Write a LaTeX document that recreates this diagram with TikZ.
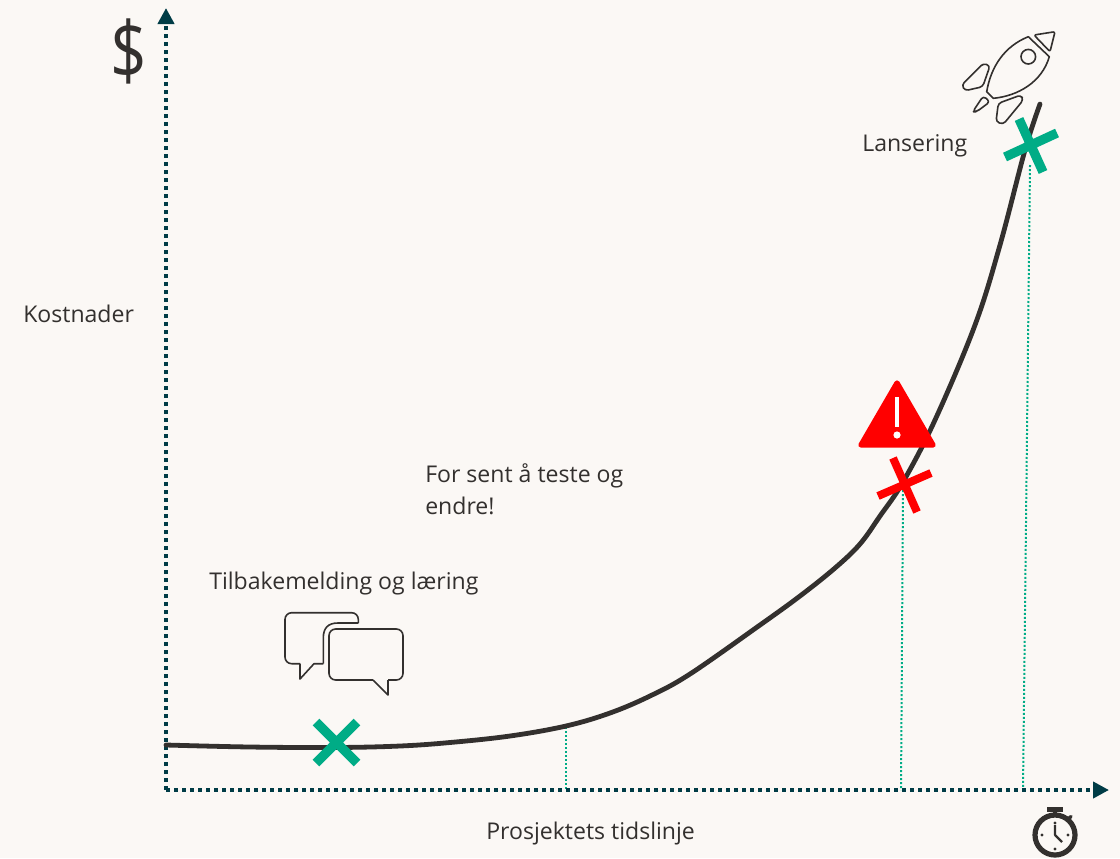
\documentclass[tikz,border=0pt]{standalone}
\usepackage{fontspec}
\setmainfont{Open Sans}
\usetikzlibrary{arrows.meta}
\definecolor{bgc}{HTML}{FBF8F5}
\definecolor{axisc}{HTML}{003C46}
\definecolor{greenc}{HTML}{00AC86}
\definecolor{inkc}{HTML}{33302E}
\definecolor{redc}{HTML}{FF0000}
\tikzset{
  px/.style={x=0.75pt,y=-0.75pt},
  axisline/.style={axisc,line width=3pt,dash pattern=on 3pt off 3pt,-{Triangle[length=12pt,width=12pt,fill=axisc]}},
  guide/.style={greenc,line width=1.5pt,dash pattern=on 1.5pt off 1.5pt},
  curveline/.style={inkc,line width=3.6pt,line cap=round},
  greenx/.style={greenc,line width=7pt},
  redx/.style={redc,line width=6pt},
  label/.style={inkc,anchor=base west,inner sep=0pt,font=\fontsize{17.3pt}{20pt}\selectfont},
  iconline/.style={inkc,line width=1.2pt,line join=round},
}
\begin{document}
\begin{tikzpicture}[px]
\path[use as bounding box,fill=bgc] (0,0) rectangle (1120,858);
\coordinate (origin) at (166,790);
\coordinate (ytip) at (166,8);
\coordinate (xtip) at (1109,790);
\coordinate (g1a) at (566,727);
\coordinate (g1b) at (566,790);
\coordinate (g2a) at (903,490);
\coordinate (g2b) at (901,790);
\coordinate (g3a) at (1030,165);
\coordinate (g3b) at (1023,790);
% guides
\draw[guide] (g1a) -- (g1b);
\draw[guide] (g2a) -- (g2b);
\draw[guide] (g3a) -- (g3b);
% axes
\draw[axisline] (origin) -- (ytip);
\draw[axisline] (origin) -- (xtip);
% curve
\draw[curveline] plot[smooth,tension=0.6] coordinates {(166,745) (250,747) (336,747.5) (400,746) (450,742.5) (510,736) (566,726) (610,713) (650,696) (690,674) (760,625) (800,596) (835,568) (860,544) (880,516) (903,482) (935,420) (975,325) (1000,245) (1025,150) (1040,104)};
% crosses
\draw[greenx] (316,722) -- (357,763) (316,763) -- (357,722);
\draw[greenx] (1019,119) -- (1043,172) (1005,157) -- (1057,133);
\draw[redx] (893,458) -- (917,512) (878,496) -- (931,473);
% warning
\fill[redc,draw=redc,line width=4pt,line join=round] (897,383) -- (861,445) -- (933,445) -- cycle;
\draw[white,line width=3.2pt] (897,397) -- (897,427);
\fill[white] (897,435) circle (3.6);
% rocket
\begin{scope}[iconline]
\draw (1028.3,36.7) .. controls (1005,46) and (991,66) .. (986.7,91.7) -- (993.3,98.3) .. controls (1018,96) and (1042,82) .. (1049.3,56.7) -- cycle;
\draw[rounded corners=1.5pt] (1034,35) -- (1055,31.7) -- (1050,51.7) -- cycle;
\draw (1028.3,56.7) circle (7.3);
\draw[rounded corners=2.5pt] (983.3,63.3) -- (990,65.7) -- (982.7,86.7) -- (965,90.7) -- (961.7,85) -- cycle;
\draw[rounded corners=2.5pt] (983.3,96) -- (990,101.7) -- (976.7,111.7) -- (972.7,111.7) -- cycle;
\draw[rounded corners=2.5pt] (998.3,103.3) -- (1021,95) -- (1023.3,100) -- (1003.3,124.3) -- (996,121.7) -- cycle;
\end{scope}
% speech bubbles
\begin{scope}[iconline]
\draw[rounded corners=5pt] (358.3,623) -- (358.3,612.7) -- (285,612.7) -- (285,663.7) -- (300,663.7);
\draw (300,663.7) -- (300,679) -- (314,663.7) -- (323.3,663.7);
\draw (323.3,663.7) -- (323.3,638) .. controls (323.3,628) and (328,623) .. (338,623) -- (358.3,623);
\draw[rounded corners=5pt] (373,680) -- (329,680) -- (329,629) -- (403,629) -- (403,680) -- (388,680);
\draw (388,680) -- (388,695) -- (373,680);
\end{scope}
% stopwatch
\draw[inkc,line width=3.9pt] (1055,835) circle (20);
\fill[inkc] (1046.7,807) rectangle (1063.3,812);
\fill[inkc] (1053,812) rectangle (1057,816);
\draw[inkc,line width=2.6pt,line cap=round] (1067,820) -- (1071,816.5);
\draw[inkc,line width=1.6pt,line join=round] (1055,825) -- (1055,835) -- (1062,842);
\fill[inkc] (1055,823) circle (1.7) (1042,835) circle (1.7) (1068,835) circle (1.7) (1055,849) circle (1.7);
% texts
\node[inkc,inner sep=0pt,xscale=0.8,font=\fontsize{60pt}{64pt}\selectfont] (dollar) at (129,51) {\$};
\node[label] (kost) at (23,322) {Kostnader};
\node[label] (tid) at (486,839) {Prosjektets tidslinje};
\node[label] (sent1) at (425,482) {For sent å teste og};
\node[label] (sent2) at (425,514) {endre!};
\node[label] (lans) at (862,151) {Lansering};
\node[label] (tilb) at (209,589) {Tilbakemelding og læring};
\end{tikzpicture}
\end{document}
